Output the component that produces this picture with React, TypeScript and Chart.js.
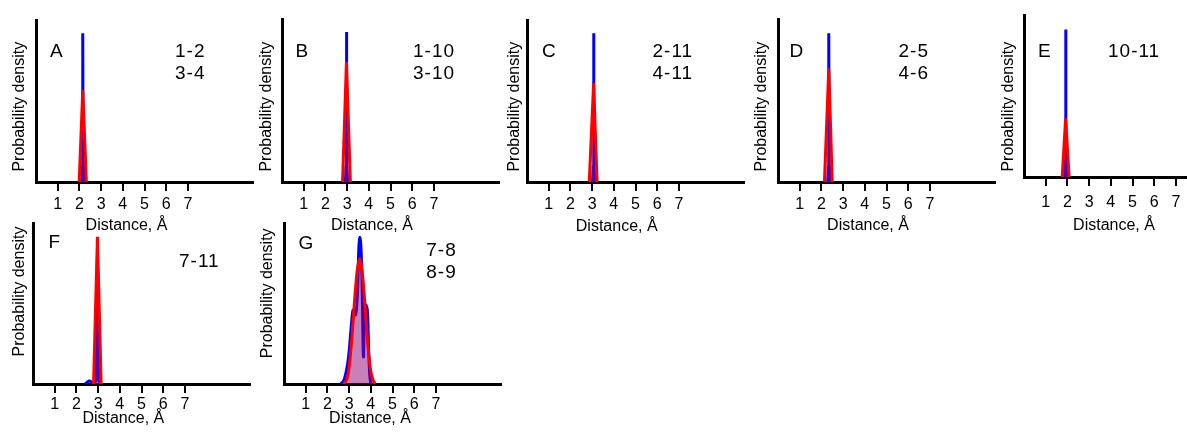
import React, { useEffect, useRef } from "react";
import { Chart, registerables } from "chart.js";

Chart.register(...registerables);

// ---------- data ----------
const X_TICKS = [1, 2, 3, 4, 5, 6, 7];
const X_MIN = 0;
const X_MAX = 10;
const Y_MIN = 0;
const Y_MAX = 1;
const X_TITLE = "Distance, Å";
const Y_TITLE = "Probability density";

const PANEL_LETTERS = ["A", "B", "C", "D", "E", "F", "G"];
const PAIR_LABELS = [
  ["1-2", "3-4"],
  ["1-10", "3-10"],
  ["2-11", "4-11"],
  ["2-5", "4-6"],
  ["10-11"],
  ["7-11"],
  ["7-8", "8-9"],
];

type Pt = [number, number];

// blue distributions
const A_BLUE: Pt[] = [[2.1, 0], [2.14, 0.1], [2.155, 0.918], [2.17, 0.1], [2.21, 0]];
const B_BLUE: Pt[] = [[2.92, 0], [2.955, 0.1], [2.97, 0.92], [2.985, 0.1], [3.03, 0]];
const C_BLUE: Pt[] = [[3.02, 0], [3.055, 0.1], [3.07, 0.918], [3.085, 0.1], [3.12, 0]];
const D_BLUE: Pt[] = [[2.29, 0], [2.325, 0.1], [2.34, 0.912], [2.355, 0.1], [2.39, 0]];
const E_BLUE: Pt[] = [[1.87, 0], [1.905, 0.1], [1.92, 0.91], [1.935, 0.1], [1.97, 0]];
const F_BLUE: Pt[] = [[2.4, 0], [2.5, 0.012], [2.6, 0.02], [2.7, 0.012], [2.8, 0.003], [2.9, 0.02], [2.97, 0.8], [3.04, 0.02], [3.08, 0]];
const G_BLUE: Pt[] = [
  [2.6, 0], [2.75, 0.02], [2.9, 0.1], [3.0, 0.2], [3.1, 0.36], [3.18, 0.46], [3.24, 0.46],
  [3.3, 0.43], [3.38, 0.55], [3.45, 0.85], [3.5, 0.91], [3.55, 0.84], [3.6, 0.62],
  [3.66, 0.17], [3.71, 0.42], [3.77, 0.49], [3.84, 0.46], [3.9, 0.22], [3.95, 0.06], [4.0, 0],
];

// red distributions
const A_RED: Pt[] = [[1.99, 0], [2.155, 0.568], [2.32, 0]];
const B_RED: Pt[] = [[2.79, 0], [2.97, 0.738], [3.15, 0]];
const C_RED: Pt[] = [[2.87, 0], [3.07, 0.609], [3.23, 0]];
const D_RED: Pt[] = [[2.14, 0], [2.34, 0.698], [2.5, 0]];
const E_RED: Pt[] = [[1.76, 0], [1.92, 0.362], [2.08, 0]];
const F_RED: Pt[] = [[2.79, 0], [2.97, 0.915], [3.14, 0]];
const G_RED: Pt[] = [
  [2.75, 0], [2.9, 0.03], [3.0, 0.1], [3.1, 0.24], [3.2, 0.42], [3.3, 0.6], [3.4, 0.73],
  [3.5, 0.776], [3.6, 0.7], [3.7, 0.55], [3.8, 0.36], [3.9, 0.19], [4.0, 0.08], [4.1, 0.025], [4.2, 0],
];

const BLUE_SERIES = [A_BLUE, B_BLUE, C_BLUE, D_BLUE, E_BLUE, F_BLUE, G_BLUE];
const RED_SERIES = [A_RED, B_RED, C_RED, D_RED, E_RED, F_RED, G_RED];

// ---------- layout (page pixel positions) ----------
type Layout = {
  axisX: number;
  top: number;
  bottom: number;
  letter: [number, number];
  pair: [number, number, number];
  xTitle: [number, number];
  yTitle: [number, number];
  tickPad: number;
  smooth: boolean;
};

const LAYOUT: Layout[] = [
  { axisX: 36, top: 20, bottom: 182, letter: [50, 57], pair: [175, 57, 79], xTitle: [126.5, 230], yTitle: [19.3, 106.7], tickPad: 4, smooth: false },
  { axisX: 282, top: 19, bottom: 182, letter: [295.5, 57.3], pair: [413, 57.3, 79], xTitle: [372, 230], yTitle: [266.7, 106.7], tickPad: 4, smooth: false },
  { axisX: 527, top: 20, bottom: 182, letter: [542, 56.7], pair: [652.5, 56.7, 79], xTitle: [616.7, 231], yTitle: [515, 106.7], tickPad: 4, smooth: false },
  { axisX: 778, top: 19, bottom: 182, letter: [789.5, 57.3], pair: [898.5, 57, 79], xTitle: [868, 230], yTitle: [762, 106.7], tickPad: 4, smooth: false },
  { axisX: 1024, top: 15, bottom: 177, letter: [1038, 57.3], pair: [1108, 57.3, 79], xTitle: [1114, 230], yTitle: [1008.3, 106.7], tickPad: 7, smooth: false },
  { axisX: 33, top: 223, bottom: 384, letter: [48.5, 248.3], pair: [179, 267.3, 289], xTitle: [123.3, 423.3], yTitle: [19.3, 291.5], tickPad: 2, smooth: false },
  { axisX: 284, top: 223.3, bottom: 384, letter: [298.5, 249.3], pair: [426.3, 255.7, 278.3], xTitle: [370, 423.3], yTitle: [267.3, 293.3], tickPad: 2, smooth: true },
];

const FONT = '"Liberation Sans", Arial, Helvetica, sans-serif';
const PL = 36;
const PT = 14;
const PR = 4;
const PB = 62;
const AXIS_LEN = 217;

function Panel({ idx }: { idx: number }) {
  const ref = useRef<HTMLCanvasElement | null>(null);
  const L = LAYOUT[idx];
  const left = Math.round(L.axisX - PL);
  const top = Math.round(L.top - PT);
  const width = PL + AXIS_LEN + PR;
  const height = Math.round(PT + (L.bottom - L.top) + PB);

  useEffect(() => {
    if (!ref.current) return;
    const ox = left;
    const oy = top;
    const textPlugin = {
      id: "panelText" + idx,
      afterDraw(chart: any) {
        const ctx = chart.ctx as CanvasRenderingContext2D;
        ctx.save();
        ctx.fillStyle = "#000";
        ctx.textBaseline = "alphabetic";
        ctx.textAlign = "left";
        ctx.font = `19px ${FONT}`;
        ctx.fillText(PANEL_LETTERS[idx], L.letter[0] - ox, L.letter[1] - oy);
        (ctx as any).letterSpacing = "1px";
        const lines = PAIR_LABELS[idx];
        lines.forEach((t, i) => {
          ctx.fillText(t, L.pair[0] - ox, L.pair[1 + i] - oy);
        });
        (ctx as any).letterSpacing = "0px";
        ctx.font = `16px ${FONT}`;
        ctx.textAlign = "center";
        ctx.fillText(X_TITLE, L.xTitle[0] - ox, L.xTitle[1] - oy);
        ctx.translate(L.yTitle[0] - ox, L.yTitle[1] - oy);
        ctx.rotate(-Math.PI / 2);
        ctx.textBaseline = "middle";
        ctx.fillText(Y_TITLE, 0, 0);
        ctx.restore();
      },
    };

    const tension = L.smooth ? 0.35 : 0;
    const chart = new Chart(ref.current, {
      type: "line",
      data: {
        datasets: [
          {
            data: RED_SERIES[idx].map(([x, y]) => ({ x, y })),
            borderColor: "#ff0000",
            backgroundColor: "rgba(255,0,0,0.28)",
            fill: "origin",
            borderWidth: 3,
            pointRadius: 0,
            tension,
            borderJoinStyle: "bevel",
          },
          {
            data: BLUE_SERIES[idx].map(([x, y]) => ({ x, y })),
            borderColor: "#0000ff",
            backgroundColor: "rgba(0,0,255,0.3)",
            fill: "origin",
            borderWidth: 3,
            pointRadius: 0,
            tension,
            borderJoinStyle: "bevel",
          },
        ],
      },
      options: {
        animation: false,
        responsive: false,
        maintainAspectRatio: false,
        devicePixelRatio: 1,
        layout: { padding: { left: PL, top: PT, right: PR, bottom: 0 } },
        plugins: { legend: { display: false }, tooltip: { enabled: false }, title: { display: false } },
        scales: {
          x: {
            type: "linear",
            min: X_MIN,
            max: X_MAX,
            afterBuildTicks: (s: any) => {
              s.ticks = X_TICKS.map((v) => ({ value: v }));
            },
            afterFit: (s: any) => {
              s.height = PB;
            },
            grid: { display: true, drawOnChartArea: false, drawTicks: true, tickLength: 9, color: "#000", lineWidth: 2 },
            border: { display: true, color: "#000", width: 3 },
            ticks: {
              color: "#000",
              font: { family: FONT, size: 16 },
              padding: L.tickPad,
              maxRotation: 0,
              autoSkip: false,
              callback: (v: any) => String(v),
            },
          },
          y: {
            type: "linear",
            min: Y_MIN,
            max: Y_MAX,
            afterFit: (s: any) => {
              s.width = 0;
            },
            grid: { display: false, drawTicks: false },
            border: { display: true, color: "#000", width: 3 },
            ticks: { display: false },
          },
        },
      },
      plugins: [textPlugin],
    } as any);
    return () => chart.destroy();
  }, [idx]);

  return (
    <canvas
      ref={ref}
      width={width}
      height={height}
      style={{ position: "absolute", left, top, width, height }}
    />
  );
}

export default function App() {
  return (
    <div
      style={{
        position: "fixed",
        left: 0,
        top: 0,
        width: 1187,
        height: 432,
        overflow: "hidden",
        background: "#fff",
      }}
    >
      {LAYOUT.map((_, i) => (
        <Panel key={i} idx={i} />
      ))}
    </div>
  );
}
